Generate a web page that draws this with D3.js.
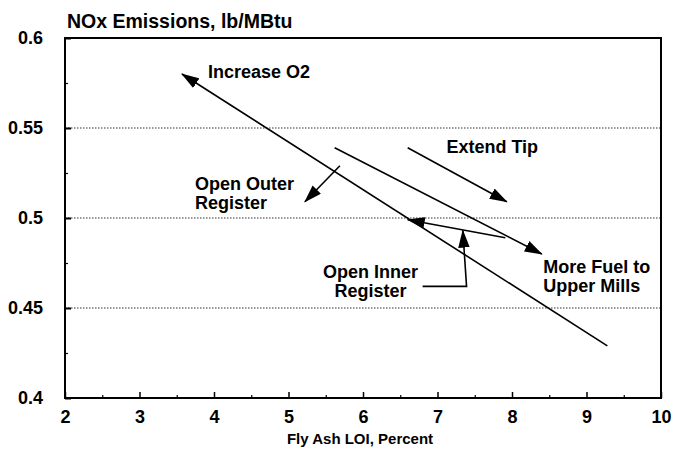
<!DOCTYPE html>
<html>
<head>
<meta charset="utf-8">
<script src="https://cdn.jsdelivr.net/npm/d3@7"></script>
<style>
  html, body { margin: 0; padding: 0; background: #fff; }
  svg { display: block; font-family: "Liberation Sans", Arial, sans-serif; }
</style>
</head>
<body>
<svg id="chart" width="678" height="449"></svg>
<script>
// ---- data ----
const xTicks = [2, 3, 4, 5, 6, 7, 8, 9, 10];
const xMinorTicks = [2.5, 3.5, 4.5, 5.5, 6.5, 7.5, 8.5, 9.5];
const yTicks = [0.4, 0.45, 0.5, 0.55, 0.6];
const yTickLabels = ["0.4", "0.45", "0.5", "0.55", "0.6"];
const yMinorTicks = [0.425, 0.475, 0.525, 0.575];
const yGrid = [0.45, 0.5, 0.55];

// direction lines (x = Fly Ash LOI %, y = NOx lb/MBtu)
const increaseO2 = [[9.28, 0.429], [3.57, 0.580]];
const moreFuel = [[5.62, 0.539], [8.40, 0.480]];
const extendTip = [[6.60, 0.539], [7.93, 0.509]];
const openOuter = [[5.69, 0.529], [5.22, 0.509]];
const openInner = [[7.91, 0.489], [6.60, 0.499]];
const innerLeader = [[6.80, 0.462], [7.39, 0.462], [7.34, 0.493]];

const annotations = [
  { lines: ["Increase O2"], x: 3.92, y: 0.5778, anchor: "start" },
  { lines: ["Extend Tip"], x: 7.12, y: 0.5361, anchor: "start" },
  { lines: ["Open Outer", "Register"], x: 3.745, y: 0.5156, anchor: "start" },
  { lines: ["Open Inner", "Register"], x: 6.10, y: 0.4667, anchor: "middle" },
  { lines: ["More Fuel to", "Upper Mills"], x: 8.42, y: 0.4694, anchor: "start" }
];

const yTitle = "NOx Emissions, lb/MBtu";
const xTitle = "Fly Ash LOI, Percent";

// ---- layout ----
const svg = d3.select("#chart");
const L = 65, R = 661, T = 38, B = 398;
const x = d3.scaleLinear().domain([2, 10]).range([L, R]);
const y = d3.scaleLinear().domain([0.4, 0.6]).range([B, T]);

// gridlines
svg.append("g").selectAll("line").data(yGrid).join("line")
  .attr("x1", L).attr("x2", R)
  .attr("y1", d => y(d)).attr("y2", d => y(d))
  .attr("stroke", "#333").attr("stroke-width", 1.2)
  .attr("stroke-dasharray", "1.5,1.5");

// x axis
const xAxis = svg.append("g").attr("transform", `translate(0,${B})`)
  .call(d3.axisBottom(x).tickValues(xTicks).tickSize(-6).tickPadding(12).tickFormat(d3.format("d")));
xAxis.select(".domain").remove();
xAxis.selectAll("line").attr("stroke", "#000").attr("stroke-width", 1.5);
xAxis.selectAll("text").attr("font-size", 18).attr("font-weight", "bold").attr("fill", "#000");

const xMinor = svg.append("g").attr("transform", `translate(0,${B})`)
  .call(d3.axisBottom(x).tickValues(xMinorTicks).tickSize(-3).tickFormat(""));
xMinor.select(".domain").remove();
xMinor.selectAll("line").attr("stroke", "#000").attr("stroke-width", 1.2);

// y axis
const yAxis = svg.append("g").attr("transform", `translate(${L},0)`)
  .call(d3.axisLeft(y).tickValues(yTicks).tickSize(-6).tickPadding(22)
    .tickFormat((d, i) => yTickLabels[i]));
yAxis.select(".domain").remove();
yAxis.selectAll("line").attr("stroke", "#000").attr("stroke-width", 2);
yAxis.selectAll("text").attr("font-size", 18).attr("font-weight", "bold").attr("fill", "#000");

const yMinor = svg.append("g").attr("transform", `translate(${L},0)`)
  .call(d3.axisLeft(y).tickValues(yMinorTicks).tickSize(-3).tickFormat(""));
yMinor.select(".domain").remove();
yMinor.selectAll("line").attr("stroke", "#000").attr("stroke-width", 1.2);

// frame
svg.append("rect").attr("x", L).attr("y", T).attr("width", R - L).attr("height", B - T)
  .attr("fill", "none").attr("stroke", "#000").attr("stroke-width", 2);

// arrow marker
const defs = svg.append("defs");
defs.append("marker").attr("id", "arrow")
  .attr("markerUnits", "userSpaceOnUse")
  .attr("viewBox", "0 -6 18 12")
  .attr("refX", 17).attr("refY", 0)
  .attr("markerWidth", 18).attr("markerHeight", 12)
  .attr("orient", "auto")
  .append("path").attr("d", "M0,-5.8L18,0L0,5.8Z").attr("fill", "#000");

const line = d3.line().x(d => x(d[0])).y(d => y(d[1]));
const arrows = [increaseO2, moreFuel, extendTip, openOuter, openInner, innerLeader];
svg.append("g").selectAll("path").data(arrows).join("path")
  .attr("d", d => line(d))
  .attr("fill", "none").attr("stroke", "#000").attr("stroke-width", 1.6)
  .attr("marker-end", "url(#arrow)");

// annotations (one text element per line)
const annLines = annotations.flatMap(a => a.lines.map((t, i) => ({ t, i, a })));
svg.append("g").selectAll("text").data(annLines).join("text")
  .attr("x", d => x(d.a.x))
  .attr("y", d => y(d.a.y) + d.i * 19)
  .attr("text-anchor", d => d.a.anchor)
  .attr("font-size", 18).attr("font-weight", "bold").attr("fill", "#000")
  .text(d => d.t);

// titles
svg.append("text").attr("x", 67).attr("y", 28)
  .attr("font-size", 19.5).attr("font-weight", "bold").text(yTitle);
svg.append("text").attr("x", 360).attr("y", 444).attr("text-anchor", "middle")
  .attr("font-size", 15).attr("font-weight", "bold").text(xTitle);
</script>
</body>
</html>
